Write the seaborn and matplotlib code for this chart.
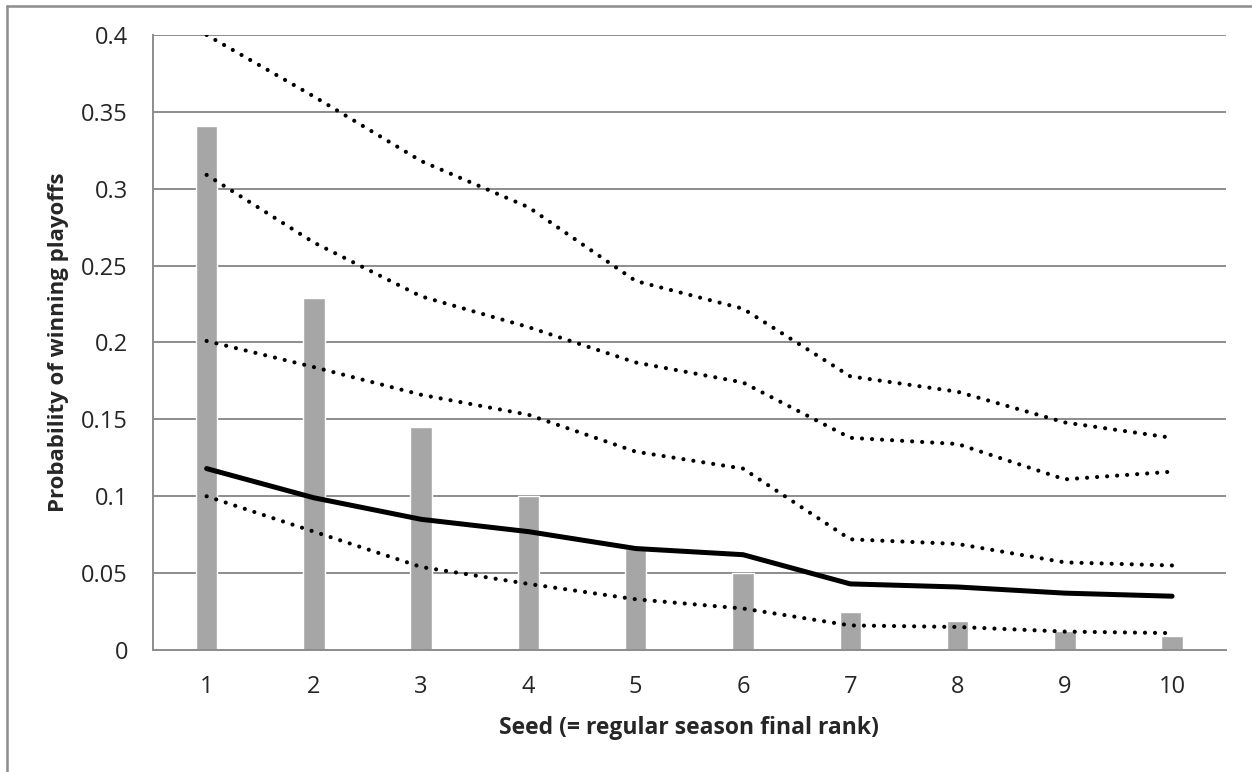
import numpy as np
import pandas as pd
import matplotlib
matplotlib.use("Agg")
import matplotlib.pyplot as plt
from matplotlib.lines import Line2D
import seaborn as sns

sns.set_style("white")
plt.rcParams['font.family'] = ['Open Sans', 'DejaVu Sans']

# data
seeds = [1, 2, 3, 4, 5, 6, 7, 8, 9, 10]
bar_prob = [0.341, 0.229, 0.145, 0.100, 0.066, 0.050, 0.025, 0.019, 0.0125, 0.009]
mean_prob = [0.118, 0.099, 0.085, 0.077, 0.066, 0.062, 0.043, 0.041, 0.037, 0.035]
band_top = [0.400, 0.360, 0.318, 0.288, 0.240, 0.222, 0.178, 0.168, 0.148, 0.138]
band_upper = [0.309, 0.265, 0.230, 0.210, 0.187, 0.174, 0.138, 0.134, 0.111, 0.116]
band_lower = [0.201, 0.184, 0.166, 0.153, 0.129, 0.118, 0.072, 0.069, 0.057, 0.055]
band_bottom = [0.100, 0.077, 0.054, 0.043, 0.033, 0.027, 0.016, 0.015, 0.012, 0.011]
yticks = [0, 0.05, 0.1, 0.15, 0.2, 0.25, 0.3, 0.35, 0.4]
ytick_labels = ["0", "0.05", "0.1", "0.15", "0.2", "0.25", "0.3", "0.35", "0.4"]

df = pd.DataFrame({"seed": seeds, "bar": bar_prob, "mean": mean_prob,
                   "top": band_top, "upper": band_upper,
                   "lower": band_lower, "bottom": band_bottom})

fig = plt.figure(figsize=(12.52, 7.72), dpi=100)
ax = fig.add_axes([0.1222, 0.158, 0.979 - 0.1222, 0.9547 - 0.158])

grid_c = "#8c8c8c"
for y in yticks[1:]:
    ax.axhline(y, color=grid_c, lw=1.4, zorder=0)

sns.barplot(data=df, x="seed", y="bar", native_scale=True, width=0.2,
            color="#a6a6a6", saturation=1, ax=ax, zorder=2)

# dotted bands (round dots)
for col in ["top", "upper", "lower", "bottom"]:
    sns.lineplot(data=df, x="seed", y=col, ax=ax, color="black", lw=3.0,
                 linestyle=(0, (0.01, 2.4)), dash_capstyle="round", zorder=3)
sns.lineplot(data=df, x="seed", y="mean", ax=ax, color="black", lw=3.6,
             solid_capstyle="round", zorder=4)

ax.set_xlim(0.5, 10.5)
ax.set_ylim(0, 0.4)
ax.set_yticks(yticks)
ax.set_yticklabels(ytick_labels, fontsize=17)
ax.set_xticks(seeds)
ax.set_xticklabels([str(s) for s in seeds], fontsize=17)
ax.set_xticks(np.arange(0.5, 11, 1), minor=True)
ax.tick_params(axis="x", which="major", length=0, pad=18)
ax.tick_params(axis="x", which="minor", length=6, width=1.4, color=grid_c, direction="out")
ax.tick_params(axis="y", length=6, width=1.4, color=grid_c, direction="out", pad=12)

for s in ["top", "right"]:
    ax.spines[s].set_visible(False)
for s in ["left", "bottom"]:
    ax.spines[s].set_color(grid_c)
    ax.spines[s].set_linewidth(1.4)

ax.set_xlabel("Seed (= regular season final rank)", fontsize=16.5, fontweight="bold", labelpad=12)
ax.set_ylabel("Probability of winning playoffs", fontsize=16, fontweight="bold", labelpad=9)

# chart frame: only the top and left edges show in the picture
fig.add_artist(Line2D([7 / 1252, 7 / 1252], [0, 1 - 6 / 772], transform=fig.transFigure,
                      color=grid_c, lw=1.8))
fig.add_artist(Line2D([7 / 1252, 1], [1 - 6 / 772, 1 - 6 / 772], transform=fig.transFigure,
                      color=grid_c, lw=1.8))

fig.savefig("out.png", dpi=100)
